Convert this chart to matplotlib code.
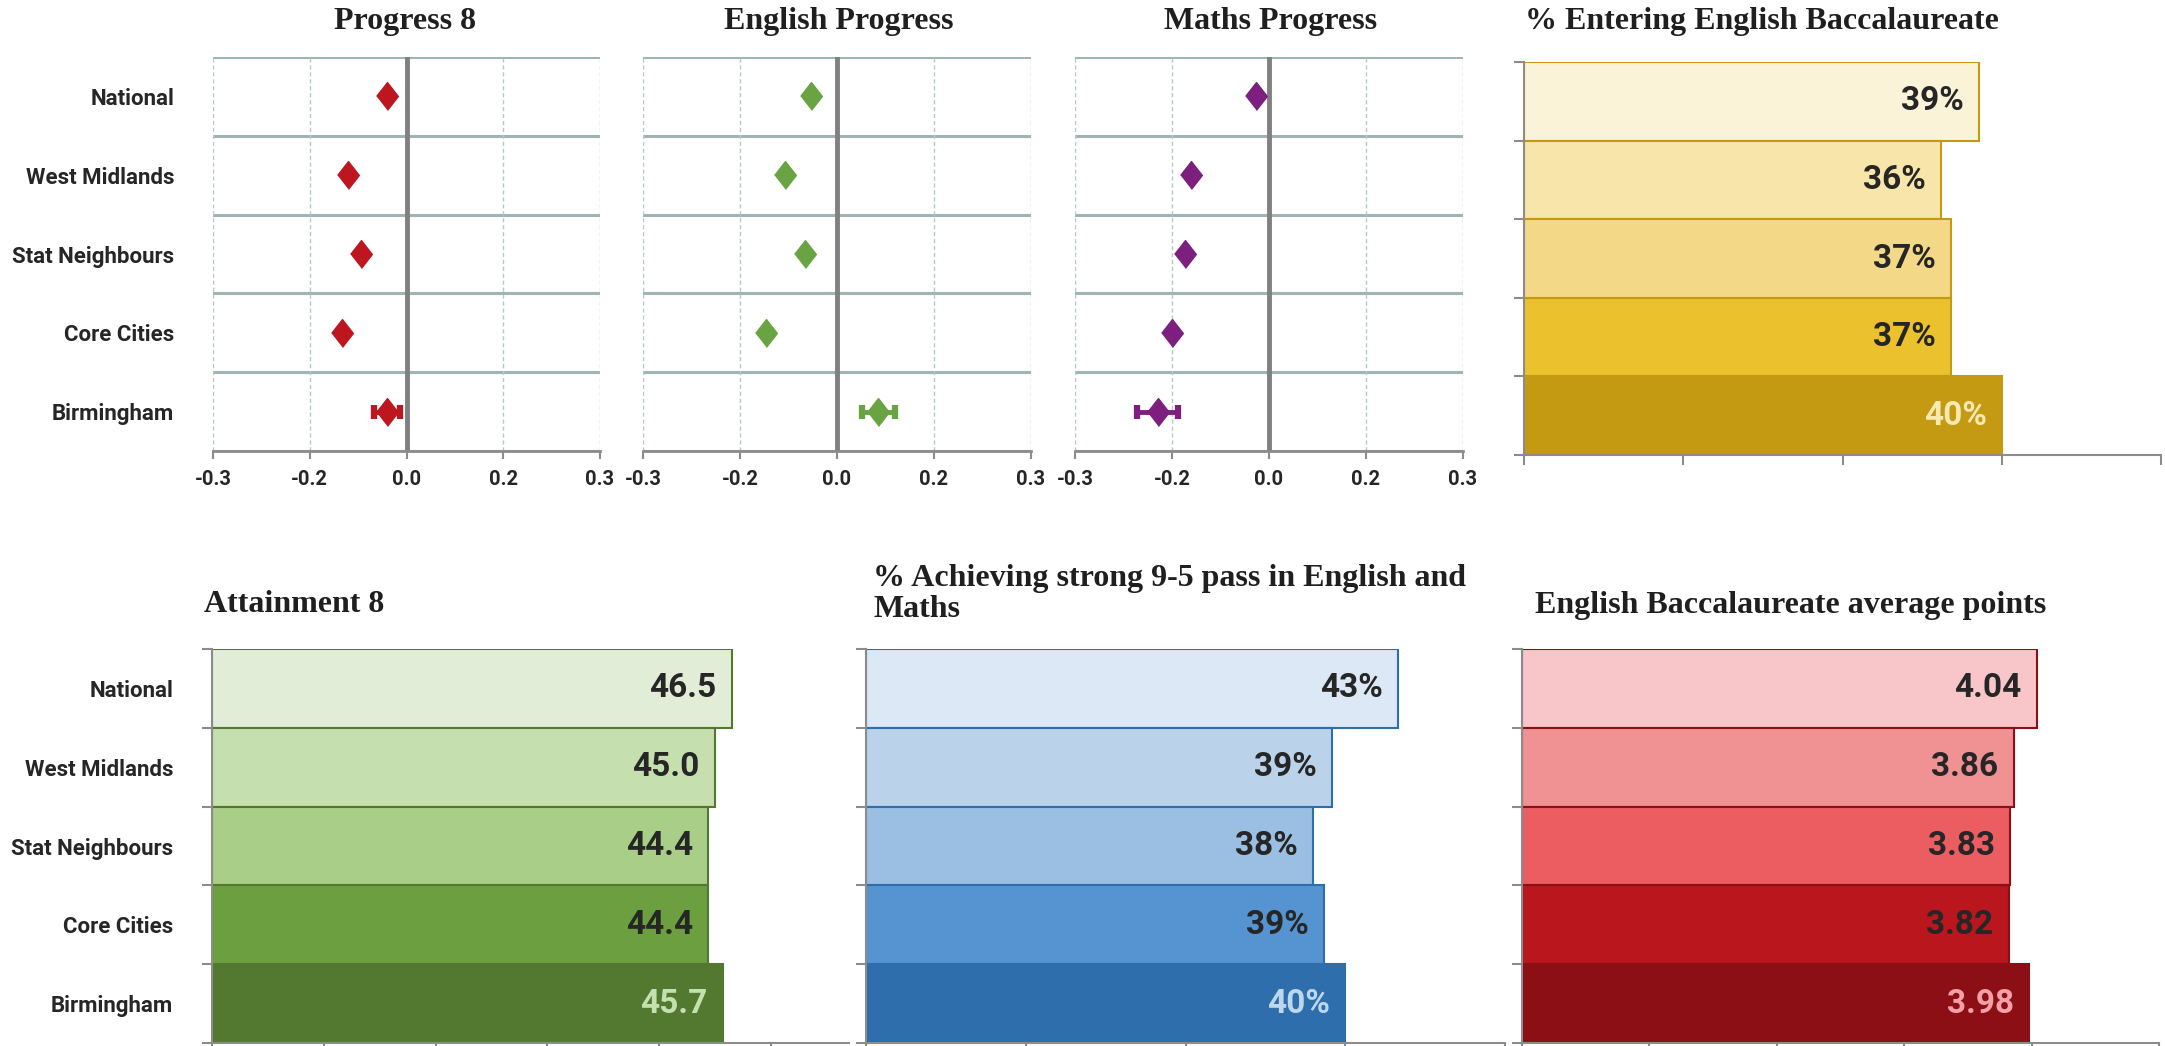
import numpy as np
import matplotlib.pyplot as plt
from matplotlib.ticker import NullFormatter

plt.rcParams['font.family'] = ['Roboto', 'DejaVu Sans']
plt.rcParams['font.weight'] = 'bold'

W, H = 2165, 1046

areas = ['National', 'West Midlands', 'Stat Neighbours', 'Core Cities', 'Birmingham']

# progress scores (diamonds), Birmingham has a confidence interval
p8 = [-0.03, -0.09, -0.07, -0.10, -0.03]
p8_err = 0.02
eng = [-0.04, -0.08, -0.05, -0.11, 0.064]
eng_err = 0.026
maths = [-0.02, -0.12, -0.13, -0.15, -0.172]
maths_err = 0.032
prog_ticks = [-0.3, -0.15, 0.0, 0.15, 0.3]
prog_ticklabels = ['-0.3', '-0.2', '0.0', '0.2', '0.3']

# bar charts
ebacc_entry = [38.6, 36.2, 36.8, 36.8, 40.0]
attain8 = [46.5, 45.0, 44.4, 44.4, 45.7]
strong_pass = [43.3, 39.2, 38.0, 38.7, 40.0]
ebacc_aps = [4.04, 3.86, 3.83, 3.82, 3.98]

yellows = ['#FAF3D7', '#F7E5AA', '#F3D887', '#EBC22E', '#C39A11']
greens = ['#E2EDD7', '#C5DFAE', '#A9CE87', '#6B9F3F', '#53782F']
blues = ['#DCE8F5', '#BAD3EA', '#9BBFE2', '#5594D1', '#2E6EAC']
reds = ['#F8C6C9', '#F09193', '#EC5D62', '#B9161E', '#8B0F15']

GRID = '#9FB5B5'
AXIS = '#8C8C8C'
TXT = '#262626'
diamond = [(-0.78, 0), (0, 1), (0.78, 0), (0, -1)]


def box(x0, y0, x1, y1):
    return [x0 / W, 1 - y1 / H, (x1 - x0) / W, (y1 - y0) / H]


fig = plt.figure(figsize=(W / 100, H / 100), dpi=100)


def progress(rect, vals, err, col, labels):
    ax = fig.add_axes(box(*rect))
    y = np.arange(5)
    for b in np.arange(-0.5, 5, 1):
        ax.axhline(b, color=GRID, lw=2.2, zorder=1)
    for t in prog_ticks:
        if t != 0:
            ax.axvline(t, color='#B5C8C8', lw=1, ls=(0, (3, 2)), zorder=1)
    ax.axvline(0, color='#808080', lw=3.5, zorder=2)
    ax.plot(vals[:4], y[:4], ls='', marker=diamond, ms=20, color=col, mec=col, zorder=3)
    ax.errorbar(vals[4], y[4], xerr=err, fmt='none', ecolor=col, elinewidth=3.5,
                capsize=5, capthick=4.5, zorder=3)
    ax.plot(vals[4], y[4], ls='', marker=diamond, ms=20, color=col, mec=col, zorder=4)
    ax.set_xlim(-0.3, 0.3)
    ax.set_ylim(4.5, -0.5)
    for s in ['left', 'right', 'top']:
        ax.spines[s].set_visible(False)
    ax.spines['bottom'].set_color(AXIS)
    ax.spines['bottom'].set_linewidth(2)
    ax.spines['bottom'].set_zorder(5)
    ax.set_xticks(prog_ticks, prog_ticklabels, fontweight='bold')
    ax.tick_params(axis='x', length=6, width=1.5, color=AXIS, labelsize=14.5,
                   labelcolor=TXT, pad=8)
    ax.set_yticks([])
    if labels:
        ax.set_yticks(y, areas, fontweight='bold')
        ax.tick_params(axis='y', length=0, labelsize=16, labelcolor=TXT, pad=28)
    return ax


def bars(rect, vals, cols, lo, hi, fmt, last_col, labels):
    ax = fig.add_axes(box(*rect))
    y = np.arange(5)
    ax.barh(y, np.array(vals) - lo, height=1.0, left=lo, color=cols,
            edgecolor=cols[-1], linewidth=1.5, zorder=2)
    for i, v in enumerate(vals):
        c = last_col if i == 4 else TXT
        ax.annotate(fmt(v), xy=(v, i), xytext=(-11, 0), textcoords='offset points',
                    ha='right', va='center', fontsize=24, fontweight='bold',
                    color=c, zorder=3)
    ax.set_xlim(lo, hi)
    ax.set_ylim(4.5, -0.5)
    for s in ['right', 'top']:
        ax.spines[s].set_visible(False)
    for s in ['left', 'bottom']:
        ax.spines[s].set_color(AXIS)
        ax.spines[s].set_linewidth(1.5)
    ax.set_yticks(np.arange(-0.5, 5, 1))
    ax.yaxis.set_major_formatter(NullFormatter())
    ax.tick_params(axis='y', length=7, width=1.5, color=AXIS)
    ax.tick_params(axis='x', length=7, width=1.5, color=AXIS, labelbottom=False)
    if labels:
        ax.set_yticks(y, areas, minor=True, fontweight='bold')
        ax.tick_params(axis='y', which='minor', length=0, labelsize=16,
                       labelcolor=TXT, pad=28)
    return ax


progress((213, 57, 600, 451), p8, p8_err, '#BE161E', True)
progress((643, 57, 1031, 451), eng, eng_err, '#6AA342', False)
progress((1075, 57, 1463, 451), maths, maths_err, '#7C1F7E', False)

a = bars((1524, 62, 2161, 455), ebacc_entry, yellows, 10, 50,
         lambda v: f'{v:.0f}%', '#F8E8B2', False)
a.set_xticks([10, 20, 30, 40, 50])
a = bars((212, 649, 849, 1043), attain8, greens, 0, 57,
         lambda v: f'{v:.1f}', '#C5E0B0', True)
a.set_xticks([0, 10, 20, 30, 40, 50])
a = bars((866, 649, 1505, 1043), strong_pass, blues, 10, 50,
         lambda v: f'{v:.0f}%', '#BDD7EE', False)
a.set_xticks([10, 20, 30, 40, 50])
a = bars((1522, 649, 2159, 1043), ebacc_aps, reds, 0, 5,
         lambda v: f'{v:.2f}', '#F4A0A6', False)
a.set_xticks([0, 1, 2, 3, 4, 5])

tk = dict(family=['Liberation Serif', 'DejaVu Serif'], fontweight='bold',
          fontsize=23, color='#1F1F1F', va='center')
fig.text(405 / W, 1 - 22 / H, 'Progress 8', ha='center', **tk)
fig.text(839 / W, 1 - 22 / H, 'English Progress', ha='center', **tk)
fig.text(1271 / W, 1 - 22 / H, 'Maths Progress', ha='center', **tk)
fig.text(1525 / W, 1 - 22 / H, '% Entering English Baccalaureate', ha='left', **tk)
fig.text(204 / W, 1 - 605 / H, 'Attainment 8', ha='left', **tk)
fig.text(873 / W, 1 - 594 / H, '% Achieving strong 9-5 pass in English and\nMaths',
         ha='left', linespacing=1.1, **tk)
fig.text(1535 / W, 1 - 605 / H, 'English Baccalaureate average points', ha='left', **tk)

fig.savefig('out.png', dpi=100)
